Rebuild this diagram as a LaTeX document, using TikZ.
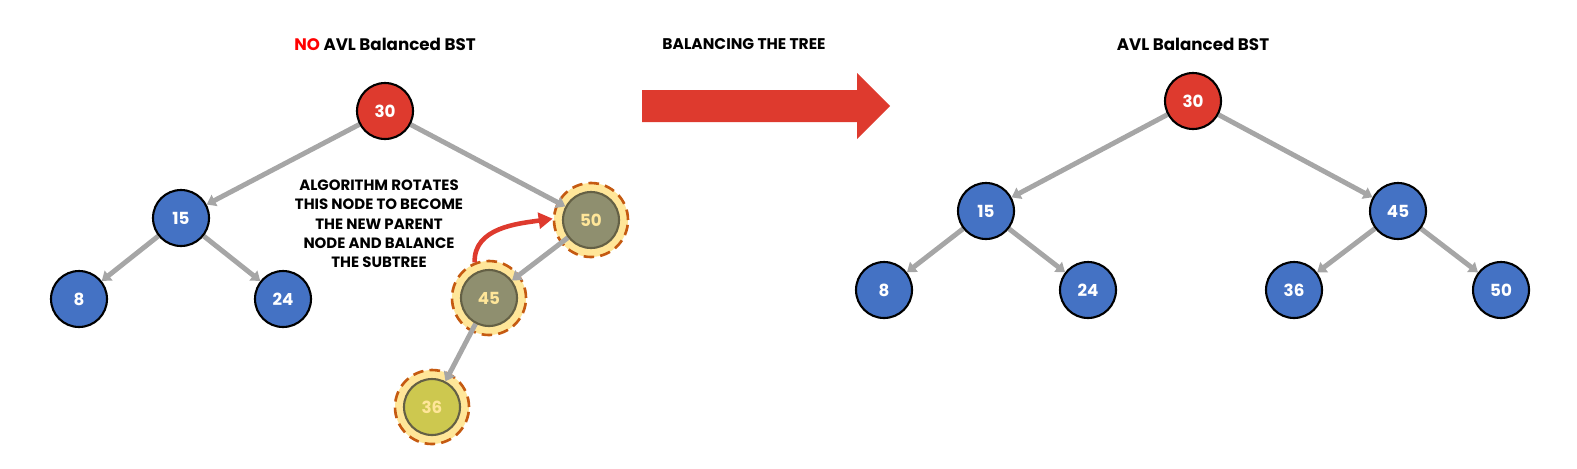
\documentclass[tikz,border=0pt]{standalone}
\usepackage{fontspec}
\setmainfont{Poppins}
\usetikzlibrary{arrows.meta,backgrounds}

\definecolor{treeblue}{HTML}{4472C4}
\definecolor{treered}{HTML}{DE3A2E}
\definecolor{edgegray}{HTML}{A6A6A6}
\definecolor{halofill}{HTML}{FFE699}
\definecolor{haloline}{HTML}{C55A11}
\definecolor{rotfill}{HTML}{8F8F6F}
\definecolor{leaffill}{HTML}{CDC84F}

\tikzset{
  bst/.style={circle,draw=black,line width=1.2pt,minimum size=1.12cm,inner sep=0pt,
    text=white,font=\fontsize{9.5}{11}\selectfont\bfseries},
  rootnode/.style={bst,fill=treered},
  keynode/.style={bst,fill=treeblue},
  rotnode/.style={bst,fill=rotfill,draw=black!70!yellow,text=halofill},
  halo/.style={circle,fill=halofill,draw=haloline,line width=1.5pt,
    dash pattern=on 6pt off 3.5pt,minimum size=1.48cm,inner sep=0pt},
  link/.style={draw=edgegray,line width=2.8pt,-{Triangle[length=5pt,width=7pt]}},
  heading/.style={font=\fontsize{9.5}{11}\selectfont\bfseries}
}

\begin{document}
\begin{tikzpicture}[x=0.02cm,y=-0.02cm]
\useasboundingbox (0,0) rectangle (1577,468);

% headings
\node[heading] (hleft) at (385,44) {\textcolor{red}{NO} AVL Balanced BST};
\node[heading,font=\fontsize{8.8}{11}\selectfont\bfseries] (hmid) at (744,44) {BALANCING THE TREE};
\node[heading] (hright) at (1193,44) {AVL Balanced BST};

% unbalanced tree
\node[rootnode] (a30) at (385,111) {30};
\node[keynode] (a15) at (181,218) {15};
\node[keynode] (a8) at (79,299) {8};
\node[keynode] (a24) at (283,299) {24};
\node[rotnode] (a50) at (591,220) {50};
\node[rotnode] (a45) at (489,298) {45};
\node[rotnode,fill=leaffill] (a36) at (432,407) {36};

\begin{scope}[on background layer]
\node[halo] (h50) at (a50) {};
\node[halo] (h45) at (a45) {};
\node[halo] (h36) at (a36) {};
\draw[link] (a30) -- (a15);
\draw[link] (a30) -- (a50);
\draw[link] (a15) -- (a8);
\draw[link] (a15) -- (a24);
\draw[link] (a50) -- (a45);
\draw[link] (a45) -- (a36);
\end{scope}

\node[align=center,font=\fontsize{8.5}{11}\selectfont\bfseries] (note) at (379,224)
  {ALGORITHM ROTATES\\THIS NODE TO BECOME\\THE NEW PARENT\\NODE AND BALANCE\\THE SUBTREE};
\draw[treered,line width=2.6pt,-{Triangle[length=8pt,width=9pt]}]
  (h45.112) to[out=92,in=188] (h50.178);

% balancing arrow
\fill[treered] (642,90) -- (857,90) -- (857,73) -- (890,106) -- (857,139) -- (857,122) -- (642,122) -- cycle;

% balanced tree
\node[rootnode] (b30) at (1193,101) {30};
\node[keynode] (b15) at (986,211) {15};
\node[keynode] (b45) at (1398,211) {45};
\node[keynode] (b8) at (884,290) {8};
\node[keynode] (b24) at (1088,290) {24};
\node[keynode] (b36) at (1294,290) {36};
\node[keynode] (b50) at (1501,290) {50};

\begin{scope}[on background layer]
\draw[link] (b30) -- (b15);
\draw[link] (b30) -- (b45);
\draw[link] (b15) -- (b8);
\draw[link] (b15) -- (b24);
\draw[link] (b45) -- (b36);
\draw[link] (b45) -- (b50);
\end{scope}
\end{tikzpicture}
\end{document}
